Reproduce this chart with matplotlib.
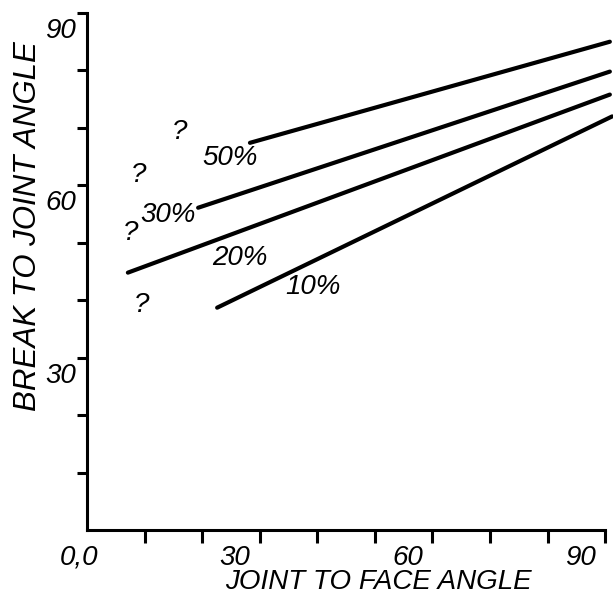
import matplotlib
matplotlib.use('Agg')
import matplotlib.pyplot as plt

# Data (joint-to-face angle vs break-to-joint angle)
series_labels = ['50%', '30%', '20%', '10%']
series_x = [[28.3, 90.8], [19.3, 90.8], [7.1, 90.8], [22.6, 91.2]]
series_y = [[67.4, 85.0], [56.1, 79.8], [44.8, 75.8], [38.7, 72.0]]
label_x = [24.8, 14.1, 26.6, 39.2]
label_y = [64.8, 54.9, 47.4, 42.3]

# question marks (uncertain points)
qmark_x = [16.1, 8.9, 7.5, 9.5]
qmark_y = [69.3, 61.8, 51.7, 39.2]

xticks = [0, 10, 20, 30, 40, 50, 60, 70, 80, 90]
yticks = [0, 10, 20, 30, 40, 50, 60, 70, 80, 90]
xtick_labels = {0: '0,0', 30: '30', 60: '60', 90: '90'}
ytick_labels = {30: '30', 60: '60', 90: '90'}

plt.rcParams['font.family'] = ['Liberation Sans', 'DejaVu Sans']
fig = plt.figure(figsize=(6.13, 5.95), dpi=100)
ax = fig.add_axes([87 / 613, 65 / 595, 524 / 613, 517 / 595])
ax.set_xlim(0, 91)
ax.set_ylim(0, 90)

for xs, ys in zip(series_x, series_y):
    ax.plot(xs, ys, color='black', lw=3.0, solid_capstyle='round', clip_on=False)

for t, x, y in zip(series_labels, label_x, label_y):
    ax.text(x, y, t, fontsize=20, style='italic', ha='center', va='center')

for x, y in zip(qmark_x, qmark_y):
    ax.text(x, y, '?', fontsize=20, style='italic', ha='center', va='center')

# axes
for s in ['top', 'right']:
    ax.spines[s].set_visible(False)
ax.spines['left'].set_linewidth(2.2)
ax.spines['bottom'].set_linewidth(2.2)
ax.spines['bottom'].set_bounds(0, 90)
ax.spines['left'].set_bounds(0, 90)
ax.set_xticks(xticks[1:])
ax.set_yticks(yticks[1:])
ax.tick_params(axis='x', direction='out', length=9, width=2.2, labelbottom=False)
ax.tick_params(axis='y', direction='out', length=7, width=2.2, labelleft=False)

for v, t in xtick_labels.items():
    if v == 0:
        ax.annotate(t, (v, 0), xytext=(-6, -20), textcoords='offset points',
                    fontsize=20, style='italic', ha='center', va='center',
                    annotation_clip=False)
    else:
        ax.annotate(t, (v, 0), xytext=(-18, -20), textcoords='offset points',
                    fontsize=20, style='italic', ha='center', va='center',
                    annotation_clip=False)

for v, t in ytick_labels.items():
    ax.annotate(t, (0, v), xytext=(-19, -13), textcoords='offset points',
                fontsize=20, style='italic', ha='center', va='center',
                annotation_clip=False)

fig.text(378 / 613, 1 - 582 / 595, 'JOINT TO FACE ANGLE', fontsize=20,
         style='italic', ha='center', va='center')
fig.text(28 / 613, 1 - 226 / 595, 'BREAK TO JOINT ANGLE', fontsize=22.5,
         style='italic', ha='center', va='center', rotation=90)

fig.savefig('out.png', dpi=100)
